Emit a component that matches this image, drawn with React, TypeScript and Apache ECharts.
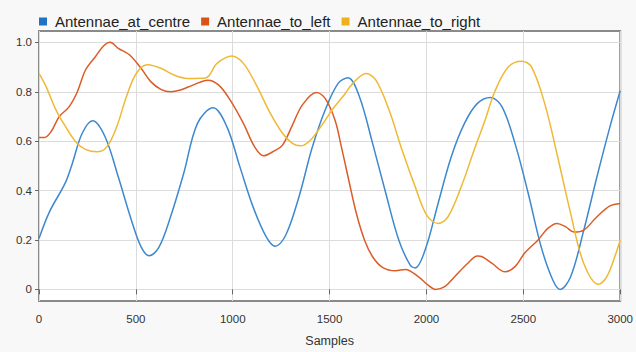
import React, { useEffect, useRef } from "react";
import * as echarts from "echarts";

const seriesNames = ["Antennae_at_centre", "Antennae_to_left", "Antennae_to_right"];
const iconColors = ["#1f73c2", "#D95319", "#EDB120"];
const lineColors = ["#3d88cf", "#db5c26", "#efb936"];

const centreX = [0, 54, 135, 172, 223, 277, 341, 409, 477, 527, 569, 620, 679, 747, 818, 899, 970, 1037, 1105, 1173, 1220, 1274, 1342, 1409, 1477, 1544, 1595, 1654, 1722, 1790, 1857, 1916, 1942, 1993, 2060, 2128, 2196, 2263, 2330, 2390, 2457, 2525, 2592, 2652, 2690, 2744, 2812, 2880, 2947, 3000];
const centreY = [0.206, 0.314, 0.43, 0.51, 0.632, 0.683, 0.618, 0.456, 0.28, 0.172, 0.136, 0.172, 0.294, 0.47, 0.672, 0.735, 0.658, 0.496, 0.334, 0.213, 0.175, 0.22, 0.375, 0.571, 0.726, 0.834, 0.857, 0.78, 0.591, 0.389, 0.2, 0.098, 0.087, 0.159, 0.348, 0.537, 0.672, 0.753, 0.777, 0.739, 0.591, 0.389, 0.172, 0.038, 0.0, 0.051, 0.24, 0.456, 0.658, 0.804];

const leftX = [0, 28, 62, 104, 155, 198, 240, 291, 333, 367, 409, 468, 527, 578, 629, 679, 730, 794, 872, 928, 987, 1055, 1113, 1159, 1215, 1257, 1308, 1359, 1431, 1477, 1528, 1560, 1595, 1638, 1680, 1722, 1773, 1841, 1891, 1959, 2009, 2047, 2094, 2145, 2212, 2263, 2288, 2339, 2406, 2457, 2508, 2576, 2626, 2674, 2719, 2762, 2812, 2880, 2947, 3000];
const leftY = [0.615, 0.615, 0.638, 0.699, 0.739, 0.8, 0.888, 0.942, 0.985, 1.0, 0.976, 0.949, 0.895, 0.84, 0.81, 0.8, 0.807, 0.827, 0.847, 0.827, 0.766, 0.672, 0.577, 0.541, 0.561, 0.584, 0.665, 0.746, 0.797, 0.773, 0.685, 0.58, 0.456, 0.308, 0.2, 0.132, 0.089, 0.075, 0.081, 0.051, 0.017, 0.0, 0.011, 0.051, 0.105, 0.135, 0.132, 0.105, 0.071, 0.092, 0.148, 0.2, 0.247, 0.267, 0.253, 0.232, 0.24, 0.294, 0.338, 0.348];

const rightX = [0, 37, 88, 138, 189, 240, 299, 350, 401, 451, 502, 561, 629, 696, 767, 860, 919, 995, 1055, 1122, 1190, 1257, 1308, 1350, 1401, 1460, 1519, 1575, 1620, 1688, 1739, 1807, 1874, 1942, 2001, 2060, 2111, 2179, 2246, 2300, 2356, 2423, 2491, 2542, 2610, 2677, 2744, 2812, 2888, 2930, 2972, 3000];
const rightY = [0.874, 0.82, 0.726, 0.658, 0.598, 0.567, 0.557, 0.577, 0.658, 0.78, 0.874, 0.909, 0.895, 0.868, 0.854, 0.856, 0.915, 0.945, 0.915, 0.827, 0.719, 0.632, 0.591, 0.581, 0.604, 0.665, 0.733, 0.787, 0.834, 0.874, 0.847, 0.726, 0.564, 0.415, 0.301, 0.267, 0.294, 0.415, 0.564, 0.68, 0.807, 0.901, 0.924, 0.901, 0.753, 0.537, 0.308, 0.105, 0.021, 0.051, 0.132, 0.2];

const xTicks = [0, 500, 1000, 1500, 2000, 2500, 3000];
const yTicks = [0, 0.2, 0.4, 0.6, 0.8, 1.0];

const pairs = (xs: number[], ys: number[]) => xs.map((x, i) => [x, ys[i]]);

export default function App() {
  const ref = useRef<HTMLDivElement>(null);
  useEffect(() => {
    if (!ref.current) return;
    const chart = echarts.init(ref.current, null, { renderer: "svg" });
    const font = "'Liberation Sans', Arial, Helvetica, sans-serif";
    const datasets = [pairs(centreX, centreY), pairs(leftX, leftY), pairs(rightX, rightY)];
    chart.setOption({
      animation: false,
      backgroundColor: "#f8f8f8",
      textStyle: { fontFamily: font },
      legend: {
        data: seriesNames,
        left: 34,
        top: 9,
        icon: "rect",
        itemWidth: 8,
        itemHeight: 8,
        itemGap: 11,
        textStyle: { fontSize: 15, color: "#222", fontFamily: font, padding: [0, 0, 0, 3] },
      },
      grid: {
        left: 39,
        right: 6,
        top: 31,
        bottom: 51,
        show: true,
        backgroundColor: "#ffffff",
        borderColor: "#8a8a8a",
        borderWidth: 2,
      },
      xAxis: {
        type: "value",
        min: xTicks[0],
        max: xTicks[xTicks.length - 1],
        interval: 500,
        name: "Samples",
        nameLocation: "middle",
        nameGap: 33,
        nameTextStyle: { fontSize: 12.5, color: "#333", fontFamily: font },
        axisLine: { show: false },
        axisTick: { show: true, inside: false, length: 5, lineStyle: { color: "#666" } },
        axisLabel: {
          fontSize: 11.5,
          color: "#333",
          margin: 12,
          fontFamily: font,
          formatter: (v: number) => String(v),
        },
        splitLine: { show: true, lineStyle: { color: "#dcdcdc", width: 1 } },
      },
      yAxis: {
        type: "value",
        min: -0.047,
        max: 1.046,
        axisLine: { show: false },
        axisTick: { show: true, length: 4, customValues: yTicks, lineStyle: { color: "#666" } },
        axisLabel: {
          fontSize: 11.5,
          color: "#333",
          margin: 7,
          fontFamily: font,
          customValues: yTicks,
          formatter: (v: number) => (v === 0 ? "0" : v.toFixed(1)),
        },
        splitLine: { show: true, customValues: yTicks, lineStyle: { color: "#dcdcdc", width: 1 } },
      },
      series: seriesNames.map((name, i) => ({
        name,
        type: "line",
        data: datasets[i],
        smooth: 0.35,
        showSymbol: false,
        symbol: "none",
        lineStyle: { color: lineColors[i], width: 1.5 },
        itemStyle: { color: iconColors[i] },
      })),
    });
    return () => chart.dispose();
  }, []);
  return (
    <div
      ref={ref}
      style={{ position: "fixed", left: 0, top: 0, width: 636, height: 352 }}
    />
  );
}
